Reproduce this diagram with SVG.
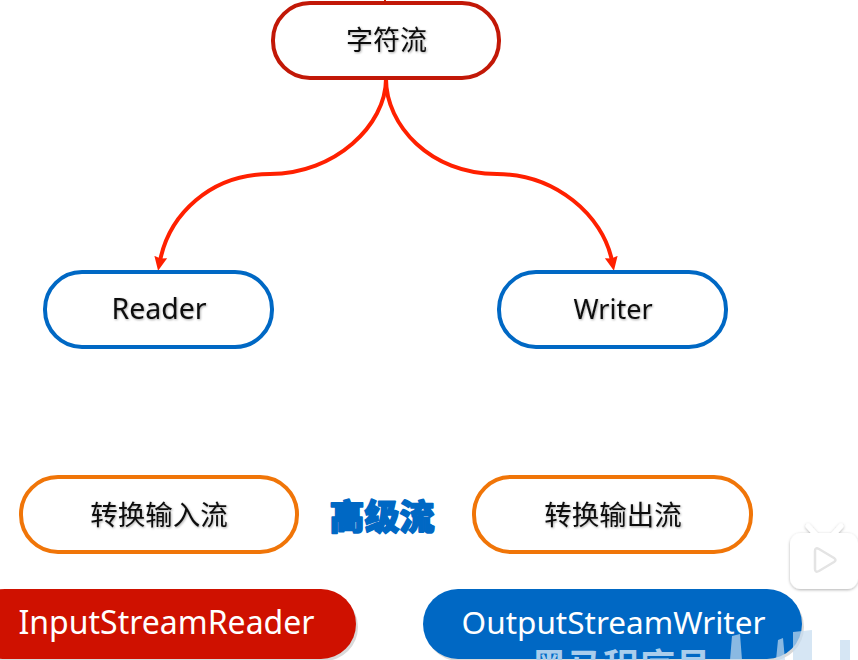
<svg xmlns="http://www.w3.org/2000/svg" width="858" height="660" viewBox="0 0 858 660">
<defs>
<marker id="arrow" markerUnits="userSpaceOnUse" markerWidth="14" markerHeight="14" refX="4" refY="7" orient="auto" viewBox="0 0 14 14"><path d="M0 0.5 L14 7 L0 13.500 L1.500 7 Z" fill="#ff2000"/></marker>
<filter id="soft" x="-5%" y="-20%" width="110%" height="140%"><feGaussianBlur stdDeviation="0.5"/></filter>
<filter id="textshadow" x="-10%" y="-20%" width="120%" height="150%"><feDropShadow dx="0.8" dy="1" stdDeviation="0.8" flood-color="#000" flood-opacity="0.35"/></filter>
<filter id="iconshadow" x="-20%" y="-20%" width="140%" height="140%"><feDropShadow dx="0" dy="1" stdDeviation="1.5" flood-color="#000" flood-opacity="0.3"/></filter>
</defs>
<style>
.t{font-family:"Noto Sans","Noto Sans CJK SC",sans-serif;text-anchor:middle}
.dark{font-size:27px;fill:#111;filter:url(#textshadow)}
.light{font-size:32px;fill:#fff}
.pill{fill:#fff;stroke-width:4}
.edge{fill:none;stroke:#ff2000;stroke-width:4;marker-end:url(#arrow)}
</style>
<rect width="858" height="660" fill="#fff"/>
<g id="connectors">
<path class="edge" d="M386 79 C386 125 335 174 270 174 C210 174 169 215 160 261"/>
<path class="edge" d="M386 79 C386 125 430 174 497 174 C555 174 603 215 612 261"/>
<path d="M385 0V3" stroke="#d42000" stroke-width="2"/>
</g>
<g id="node-char"><rect class="pill" x="273" y="3" width="226" height="75" rx="37" stroke="#c21807"/><text class="t dark" x="386.500" y="50">字符流</text></g>
<g id="node-reader"><rect class="pill" x="45" y="272" width="227" height="75" rx="37" stroke="#0068c4"/><text class="t dark" x="159" y="319" style="font-size:28.500px">Reader</text></g>
<g id="node-writer"><rect class="pill" x="499" y="272" width="227" height="75" rx="37" stroke="#0068c4"/><text class="t dark" x="613" y="319">Writer</text></g>
<g id="node-isr-cn"><rect class="pill" x="21" y="477" width="276" height="75" rx="37" stroke="#f07508"/><text class="t dark" x="159" y="525" style="font-size:27.500px">转换输入流</text></g>
<g id="node-osw-cn"><rect class="pill" x="474" y="477" width="277" height="75" rx="37" stroke="#f07508"/><text class="t dark" x="613" y="525" style="font-size:27.500px">转换输出流</text></g>
<g id="label-high"><text class="t" x="382" y="530" style="font-size:35px;font-weight:900;fill:#0068c4;stroke:#0068c4;stroke-width:1.6px;stroke-linejoin:round">高级流</text></g>
<g id="node-isr"><rect x="-30" y="593" width="388" height="68" rx="34" fill="#d9d9d9" filter="url(#soft)"/><rect x="-30" y="589" width="386" height="70" rx="35" fill="#cf1100"/><text class="t light" x="166.500" y="634">InputStreamReader</text></g>
<g id="node-osw"><rect x="425" y="593" width="379" height="68" rx="34" fill="#d9d9d9" filter="url(#soft)"/><rect x="423" y="589" width="379" height="70" rx="35" fill="#0068c4"/><text class="t light" x="613.500" y="634" style="font-size:31.500px">OutputStreamWriter</text></g>
<g id="watermark">
<text class="t" x="621" y="680" style="font-size:36px;font-weight:700;fill:#a9cdec">黑马程序员</text>
<path d="M732 636L740 634L742 660H730Z M778 640L783 638L785 660H776Z M793 632L812 630V660H793Z M840 640H850V660H840Z" fill="#c5dcef" opacity="0.7"/>
</g>
<g id="play-icon" filter="url(#iconshadow)">
<path d="M808 526L817 536M841 526L832 536" stroke="#fff" stroke-width="5" stroke-linecap="round"/>
<rect x="790" y="533" width="68" height="56" rx="11" fill="#fff"/>
<path d="M815 551Q815 547 819 549L834 558Q837 560 834 562L819 571Q815 573 815 569Z" fill="#fff" stroke="#e4e4e4" stroke-width="2.500"/>
</g>
</svg>
